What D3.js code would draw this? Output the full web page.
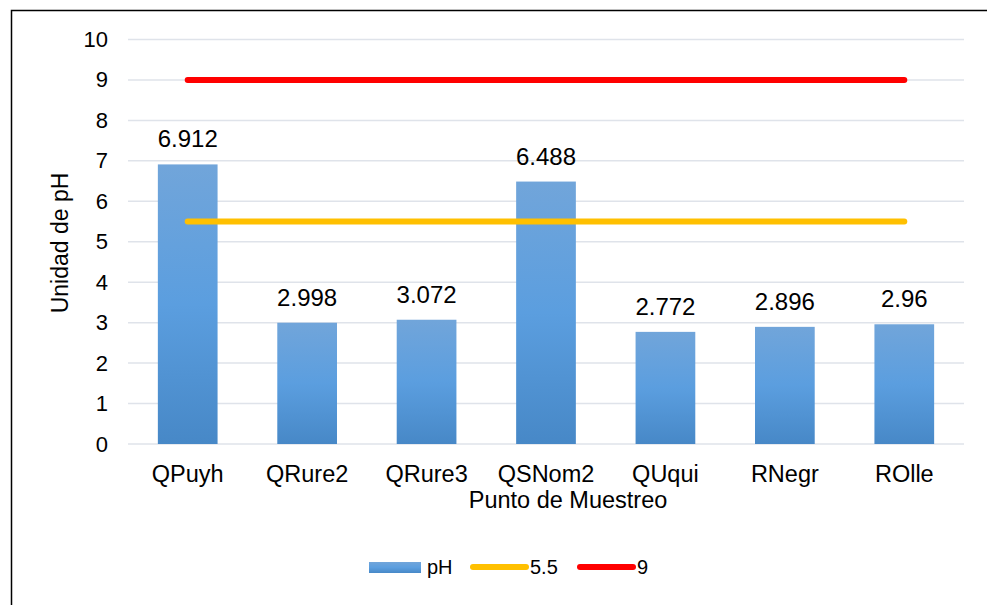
<!DOCTYPE html>
<html>
<head>
<meta charset="utf-8">
<script src="https://cdn.jsdelivr.net/npm/d3@7"></script>
<style>
  body { margin: 0; background: #fff; }
  svg { display: block; font-family: "Liberation Sans", Arial, sans-serif; }
</style>
</head>
<body>
<div id="chart"></div>
<script>
// Chart data
const categories = ['QPuyh', 'QRure2', 'QRure3', 'QSNom2', 'QUqui', 'RNegr', 'ROlle'];
const phValues = [6.912, 2.998, 3.072, 6.488, 2.772, 2.896, 2.96];
const phLabels = ['6.912', '2.998', '3.072', '6.488', '2.772', '2.896', '2.96'];
const lowerLimit = 5.5;
const upperLimit = 9;
const yTicks = [0, 1, 2, 3, 4, 5, 6, 7, 8, 9, 10];

const width = 987;
const height = 605;
const plot = { left: 128, right: 964, top: 39.5, bottom: 444 };

const svg = d3.select('#chart')
    .append('svg')
    .attr('width', width)
    .attr('height', height);

// Bar gradient (light on top, darker at bottom)
const defs = svg.append('defs');
const grad = defs.append('linearGradient')
    .attr('id', 'barGrad')
    .attr('x1', 0).attr('y1', 0)
    .attr('x2', 0).attr('y2', 1);
grad.append('stop').attr('offset', '0%').attr('stop-color', '#71a5da');
grad.append('stop').attr('offset', '50%').attr('stop-color', '#5b9edf');
grad.append('stop').attr('offset', '100%').attr('stop-color', '#4788c7');

// Outer frame (right and bottom edges fall outside the picture)
svg.append('rect')
    .attr('x', 11.5).attr('y', 10.5)
    .attr('width', 1000).attr('height', 1000)
    .attr('fill', 'none')
    .attr('stroke', '#000')
    .attr('stroke-width', 1.5);

const x = d3.scaleBand()
    .domain(categories)
    .range([plot.left, plot.right])
    .paddingInner(0.5)
    .paddingOuter(0.25);

const y = d3.scaleLinear()
    .domain([0, 10])
    .range([plot.bottom, plot.top]);

// Gridlines
svg.append('g')
    .selectAll('line')
    .data(yTicks)
    .enter()
    .append('line')
    .attr('x1', plot.left)
    .attr('x2', plot.right)
    .attr('y1', d => y(d))
    .attr('y2', d => y(d))
    .attr('stroke', '#dfe3ea')
    .attr('stroke-width', 1.5);

// Y axis labels
const yAxis = svg.append('g')
    .attr('transform', `translate(${plot.left - 20},0)`)
    .call(d3.axisLeft(y).tickValues(yTicks).tickSize(0).tickPadding(0));
yAxis.select('.domain').remove();
yAxis.selectAll('text')
    .style('font-size', '22px')
    .style('font-family', '"Liberation Sans", Arial, sans-serif')
    .attr('fill', '#000');

// Bars
svg.append('g')
    .selectAll('rect')
    .data(phValues)
    .enter()
    .append('rect')
    .attr('x', (d, i) => x(categories[i]))
    .attr('width', x.bandwidth())
    .attr('y', d => y(d))
    .attr('height', d => y(0) - y(d))
    .attr('fill', 'url(#barGrad)');

// Value labels
svg.append('g')
    .selectAll('text')
    .data(phValues)
    .enter()
    .append('text')
    .attr('x', (d, i) => x(categories[i]) + x.bandwidth() / 2)
    .attr('y', d => y(d) - 17)
    .attr('text-anchor', 'middle')
    .style('font-size', '24px')
    .text((d, i) => phLabels[i]);

// Limit lines from first to last category centre
const xFirst = x(categories[0]) + x.bandwidth() / 2;
const xLast = x(categories[categories.length - 1]) + x.bandwidth() / 2;
[[lowerLimit, '#ffc000'], [upperLimit, '#ff0000']].forEach(([v, c]) => {
    svg.append('line')
        .attr('x1', xFirst).attr('x2', xLast)
        .attr('y1', y(v)).attr('y2', y(v))
        .attr('stroke', c)
        .attr('stroke-width', 6)
        .attr('stroke-linecap', 'round');
});

// X axis labels
const xAxis = svg.append('g')
    .attr('transform', `translate(0,${plot.bottom})`)
    .call(d3.axisBottom(x).tickSize(0).tickPadding(0));
xAxis.select('.domain').remove();
xAxis.selectAll('text')
    .attr('dy', null)
    .attr('y', 38)
    .style('font-size', '23.5px')
    .style('font-family', '"Liberation Sans", Arial, sans-serif')
    .attr('fill', '#000');

// Axis titles
svg.append('text')
    .attr('x', 568)
    .attr('y', 508)
    .attr('text-anchor', 'middle')
    .style('font-size', '23.5px')
    .text('Punto de Muestreo');

svg.append('text')
    .attr('transform', 'translate(68,243) rotate(-90)')
    .attr('text-anchor', 'middle')
    .style('font-size', '23px')
    .text('Unidad de pH');

// Legend
const legend = svg.append('g');
legend.append('rect')
    .attr('x', 369).attr('y', 562)
    .attr('width', 52).attr('height', 11)
    .attr('fill', 'url(#barGrad)');
legend.append('text')
    .attr('x', 427).attr('y', 574)
    .style('font-size', '20px')
    .text('pH');

const legendLines = [
    { label: String(lowerLimit), color: '#ffc000', x0: 473, x1: 526, tx: 530 },
    { label: String(upperLimit), color: '#ff0000', x0: 580, x1: 633, tx: 637 }
];
legendLines.forEach(l => {
    legend.append('line')
        .attr('x1', l.x0).attr('x2', l.x1)
        .attr('y1', 567).attr('y2', 567)
        .attr('stroke', l.color)
        .attr('stroke-width', 6)
        .attr('stroke-linecap', 'round');
    legend.append('text')
        .attr('x', l.tx).attr('y', 574)
        .style('font-size', '20px')
        .text(l.label);
});
</script>
</body>
</html>
